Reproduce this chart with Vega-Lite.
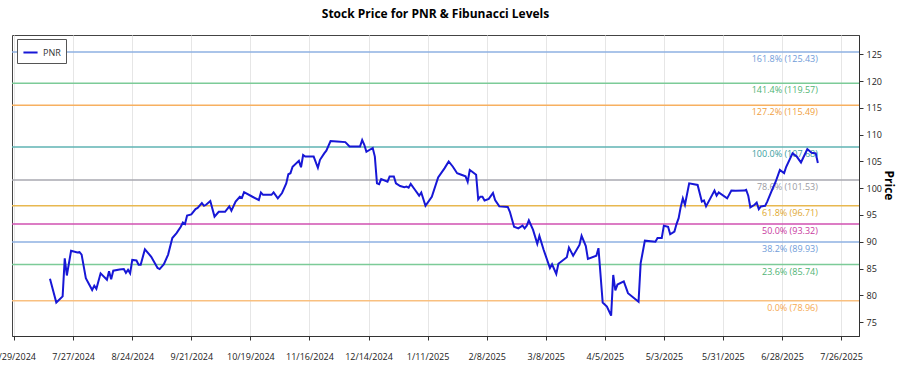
{
"$schema": "https://vega.github.io/schema/vega-lite/v6.json",
"width": 847, "height": 301,
"autosize": {"type": "none"},
"padding": {"left": 12, "top": 35, "right": 41, "bottom": 39},
"background": "white",
"config": {"font": "Open Sans", "view": {"stroke": "#444", "strokeWidth": 1}, "axis": {"labelOverlap": false}, "axisY": {"labelOverlap": false}, "axisRight": {"labelOverlap": false}, "axisQuantitative": {"labelOverlap": false}},
"title": {"text": "Stock Price for PNR & Fibunacci Levels", "fontSize": 12, "fontWeight": "bold", "color": "#000", "anchor": "middle", "offset": 14},
"datasets": {
"fib": [
{"level": "161.8%", "value": 125.43, "label": "161.8% (125.43)"},
{"level": "141.4%", "value": 119.57, "label": "141.4% (119.57)"},
{"level": "127.2%", "value": 115.49, "label": "127.2% (115.49)"},
{"level": "100.0%", "value": 107.68, "label": "100.0% (107.68)"},
{"level": "78.6%", "value": 101.53, "label": "78.6% (101.53)"},
{"level": "61.8%", "value": 96.71, "label": "61.8% (96.71)"},
{"level": "50.0%", "value": 93.32, "label": "50.0% (93.32)"},
{"level": "38.2%", "value": 89.93, "label": "38.2% (89.93)"},
{"level": "23.6%", "value": 85.74, "label": "23.6% (85.74)"},
{"level": "0.0%", "value": 78.96, "label": "0.0% (78.96)"}
],
"prices": [
{"date":"2024-07-16T00:00","price":83.1},{"date":"2024-07-19T00:00","price":78.65},{"date":"2024-07-22T00:00","price":79.8},{"date":"2024-07-23T00:00","price":86.9},{"date":"2024-07-24T00:00","price":83.7},{"date":"2024-07-26T00:00","price":88.3},{"date":"2024-07-29T00:00","price":88.0},{"date":"2024-07-30T00:00","price":88.05},{"date":"2024-07-31T00:00","price":87.6},{"date":"2024-08-02T00:00","price":83.2},{"date":"2024-08-05T00:00","price":81.0},{"date":"2024-08-06T00:00","price":81.8},{"date":"2024-08-07T00:00","price":81.2},{"date":"2024-08-09T00:00","price":84.1},{"date":"2024-08-12T00:00","price":82.9},{"date":"2024-08-13T00:00","price":84.5},{"date":"2024-08-14T00:00","price":83.0},{"date":"2024-08-15T00:00","price":84.6},{"date":"2024-08-18T00:00","price":84.8},{"date":"2024-08-20T00:00","price":84.9},{"date":"2024-08-21T00:00","price":84.2},{"date":"2024-08-22T00:00","price":84.75},{"date":"2024-08-23T00:00","price":84.1},{"date":"2024-08-24T00:00","price":86.6},{"date":"2024-08-26T00:00","price":86.5},{"date":"2024-08-27T00:00","price":85.7},{"date":"2024-08-28T00:00","price":85.7},{"date":"2024-08-30T00:00","price":88.6},{"date":"2024-09-02T00:00","price":87.2},{"date":"2024-09-05T00:00","price":85.1},{"date":"2024-09-06T00:00","price":84.9},{"date":"2024-09-08T00:00","price":85.8},{"date":"2024-09-10T00:00","price":87.6},{"date":"2024-09-12T00:00","price":90.7},{"date":"2024-09-14T00:00","price":91.6},{"date":"2024-09-16T00:00","price":92.8},{"date":"2024-09-17T00:00","price":93.6},{"date":"2024-09-18T00:00","price":93.3},{"date":"2024-09-19T00:00","price":94.9},{"date":"2024-09-21T00:00","price":95.1},{"date":"2024-09-23T00:00","price":96.1},{"date":"2024-09-24T00:00","price":96.3},{"date":"2024-09-26T00:00","price":97.2},{"date":"2024-09-27T00:00","price":96.7},{"date":"2024-09-28T00:00","price":96.9},{"date":"2024-09-30T00:00","price":97.6},{"date":"2024-10-02T00:00","price":94.7},{"date":"2024-10-04T00:00","price":95.6},{"date":"2024-10-07T00:00","price":95.6},{"date":"2024-10-09T00:00","price":96.6},{"date":"2024-10-10T00:00","price":95.8},{"date":"2024-10-12T00:00","price":97.5},{"date":"2024-10-14T00:00","price":98.4},{"date":"2024-10-15T00:00","price":98.2},{"date":"2024-10-16T00:00","price":99.25},{"date":"2024-10-20T00:00","price":98.4},{"date":"2024-10-23T00:00","price":97.8},{"date":"2024-10-24T00:00","price":99.2},{"date":"2024-10-25T00:00","price":98.75},{"date":"2024-10-29T00:00","price":98.75},{"date":"2024-10-30T00:00","price":99.2},{"date":"2024-11-01T00:00","price":98.1},{"date":"2024-11-03T00:00","price":99.1},{"date":"2024-11-05T00:00","price":100.9},{"date":"2024-11-06T00:00","price":102.6},{"date":"2024-11-07T00:00","price":102.8},{"date":"2024-11-08T00:00","price":104.0},{"date":"2024-11-11T00:00","price":105.1},{"date":"2024-11-12T00:00","price":103.9},{"date":"2024-11-13T00:00","price":106.2},{"date":"2024-11-14T00:00","price":105.9},{"date":"2024-11-18T00:00","price":105.9},{"date":"2024-11-20T00:00","price":103.8},{"date":"2024-11-21T00:00","price":105.3},{"date":"2024-11-23T00:00","price":106.5},{"date":"2024-11-24T00:00","price":107.0},{"date":"2024-11-26T00:00","price":108.8},{"date":"2024-11-29T00:00","price":108.7},{"date":"2024-12-03T00:00","price":108.6},{"date":"2024-12-05T00:00","price":107.8},{"date":"2024-12-10T00:00","price":107.8},{"date":"2024-12-11T00:00","price":109.0},{"date":"2024-12-12T00:00","price":108.1},{"date":"2024-12-13T00:00","price":106.8},{"date":"2024-12-16T00:00","price":107.5},{"date":"2024-12-17T00:00","price":105.9},{"date":"2024-12-18T00:00","price":100.9},{"date":"2024-12-19T00:00","price":100.75},{"date":"2024-12-20T00:00","price":101.7},{"date":"2024-12-23T00:00","price":101.2},{"date":"2024-12-24T00:00","price":102.2},{"date":"2024-12-26T00:00","price":102.2},{"date":"2024-12-27T00:00","price":100.9},{"date":"2024-12-29T00:00","price":100.4},{"date":"2024-12-31T00:00","price":100.2},{"date":"2025-01-01T00:00","price":100.3},{"date":"2025-01-02T00:00","price":100.1},{"date":"2025-01-03T00:00","price":100.8},{"date":"2025-01-05T00:00","price":99.7},{"date":"2025-01-07T00:00","price":98.6},{"date":"2025-01-08T00:00","price":99.2},{"date":"2025-01-10T00:00","price":96.7},{"date":"2025-01-13T00:00","price":98.4},{"date":"2025-01-16T00:00","price":102.0},{"date":"2025-01-19T00:00","price":103.7},{"date":"2025-01-21T00:00","price":105.0},{"date":"2025-01-23T00:00","price":104.0},{"date":"2025-01-25T00:00","price":102.8},{"date":"2025-01-27T00:00","price":102.5},{"date":"2025-01-29T00:00","price":102.2},{"date":"2025-01-30T00:00","price":101.2},{"date":"2025-01-31T00:00","price":103.4},{"date":"2025-02-01T00:00","price":103.1},{"date":"2025-02-03T00:00","price":102.5},{"date":"2025-02-04T00:00","price":97.9},{"date":"2025-02-05T00:00","price":98.4},{"date":"2025-02-06T00:00","price":98.4},{"date":"2025-02-07T00:00","price":97.7},{"date":"2025-02-09T00:00","price":98.0},{"date":"2025-02-11T00:00","price":99.1},{"date":"2025-02-12T00:00","price":97.8},{"date":"2025-02-14T00:00","price":96.6},{"date":"2025-02-18T00:00","price":96.5},{"date":"2025-02-19T00:00","price":95.6},{"date":"2025-02-21T00:00","price":92.8},{"date":"2025-02-23T00:00","price":92.5},{"date":"2025-02-25T00:00","price":93.0},{"date":"2025-02-26T00:00","price":92.5},{"date":"2025-02-27T00:00","price":93.0},{"date":"2025-02-28T00:00","price":94.0},{"date":"2025-03-02T00:00","price":92.2},{"date":"2025-03-04T00:00","price":89.6},{"date":"2025-03-05T00:00","price":91.1},{"date":"2025-03-07T00:00","price":88.5},{"date":"2025-03-10T00:00","price":85.1},{"date":"2025-03-11T00:00","price":85.8},{"date":"2025-03-13T00:00","price":84.0},{"date":"2025-03-14T00:00","price":85.9},{"date":"2025-03-18T00:00","price":87.1},{"date":"2025-03-19T00:00","price":88.9},{"date":"2025-03-21T00:00","price":87.4},{"date":"2025-03-24T00:00","price":89.4},{"date":"2025-03-25T00:00","price":91.1},{"date":"2025-03-27T00:00","price":89.2},{"date":"2025-03-28T00:00","price":86.8},{"date":"2025-04-01T00:00","price":87.4},{"date":"2025-04-02T00:00","price":88.8},{"date":"2025-04-04T00:00","price":78.65},{"date":"2025-04-06T00:00","price":77.9},{"date":"2025-04-08T00:00","price":76.2},{"date":"2025-04-09T00:00","price":83.8},{"date":"2025-04-10T00:00","price":80.9},{"date":"2025-04-11T00:00","price":82.0},{"date":"2025-04-14T00:00","price":82.6},{"date":"2025-04-16T00:00","price":80.4},{"date":"2025-04-21T00:00","price":78.8},{"date":"2025-04-22T00:00","price":86.0},{"date":"2025-04-24T00:00","price":90.2},{"date":"2025-04-29T00:00","price":90.0},{"date":"2025-04-30T00:00","price":90.7},{"date":"2025-05-02T00:00","price":90.7},{"date":"2025-05-03T00:00","price":93.0},{"date":"2025-05-05T00:00","price":92.8},{"date":"2025-05-06T00:00","price":91.4},{"date":"2025-05-08T00:00","price":91.9},{"date":"2025-05-09T00:00","price":93.3},{"date":"2025-05-10T00:00","price":94.4},{"date":"2025-05-11T00:00","price":96.5},{"date":"2025-05-12T00:00","price":98.1},{"date":"2025-05-13T00:00","price":96.9},{"date":"2025-05-15T00:00","price":100.9},{"date":"2025-05-19T00:00","price":100.6},{"date":"2025-05-21T00:00","price":97.5},{"date":"2025-05-22T00:00","price":97.7},{"date":"2025-05-23T00:00","price":96.6},{"date":"2025-05-27T00:00","price":99.55},{"date":"2025-05-28T00:00","price":98.6},{"date":"2025-05-29T00:00","price":99.2},{"date":"2025-06-02T00:00","price":98.1},{"date":"2025-06-04T00:00","price":99.55},{"date":"2025-06-06T00:00","price":99.5},{"date":"2025-06-10T00:00","price":99.55},{"date":"2025-06-11T00:00","price":99.7},{"date":"2025-06-12T00:00","price":98.6},{"date":"2025-06-13T00:00","price":96.4},{"date":"2025-06-15T00:00","price":96.9},{"date":"2025-06-16T00:00","price":97.3},{"date":"2025-06-17T00:00","price":96.1},{"date":"2025-06-18T00:00","price":96.6},{"date":"2025-06-20T00:00","price":96.7},{"date":"2025-06-21T00:00","price":97.5},{"date":"2025-06-23T00:00","price":99.4},{"date":"2025-06-25T00:00","price":101.2},{"date":"2025-06-27T00:00","price":103.4},{"date":"2025-06-29T00:00","price":102.8},{"date":"2025-06-30T00:00","price":104.0},{"date":"2025-07-03T00:00","price":106.5},{"date":"2025-07-05T00:00","price":105.9},{"date":"2025-07-07T00:00","price":104.8},{"date":"2025-07-10T00:00","price":107.3},{"date":"2025-07-12T00:00","price":106.6},{"date":"2025-07-14T00:00","price":106.5},{"date":"2025-07-15T00:00","price":104.7}
]
},
"layer": [
{
"data": {"name": "fib"},
"mark": {"type": "rule", "strokeWidth": 1.5},
"encoding": {
"y": {"field": "value", "type": "quantitative", "scale": {"domain": [72.4, 128.6], "nice": false, "zero": false},
 "axis": {"orient": "right", "title": "Price", "titleFontSize": 12, "titleFontWeight": "bold", "titleColor": "#000", "titleAngle": 90, "titleX": 29, "titleY": 150, "titleAlign": "center", "titleBaseline": "middle", "values": [75,80,85,90,95,100,105,110,115,120,125], "labelOverlap": false, "labelFontSize": 9, "labelColor": "#222", "tickSize": 4, "tickColor": "#333", "domainColor": "#333", "grid": false, "labelPadding": 3}},
"color": {"field": "level", "type": "nominal", "legend": null, "scale": {"domain": ["161.8%","141.4%","127.2%","100.0%","78.6%","61.8%","50.0%","38.2%","23.6%","0.0%"], "range": ["#8eb0e2","#7ccb98","#f7b060","#5fb3b3","#a8a8b0","#e8b850","#d050b0","#8eb0e2","#7ccb98","#f9c080"]}}
}
},
{
"data": {"name": "fib"},
"mark": {"type": "text", "align": "right", "baseline": "top", "dy": 3, "fontSize": 9},
"encoding": {
"x": {"datum": {"year": 2025, "month": 7, "date": 15}, "type": "temporal"},
"y": {"field": "value", "type": "quantitative",
 "axis": {"orient": "right", "title": "Price", "titleFontSize": 12, "titleFontWeight": "bold", "titleColor": "#000", "titleAngle": 90, "titleX": 29, "titleY": 150, "titleAlign": "center", "titleBaseline": "middle", "values": [75,80,85,90,95,100,105,110,115,120,125], "labelOverlap": false, "labelFontSize": 9, "labelColor": "#222", "tickSize": 4, "tickColor": "#333", "domainColor": "#333", "grid": false, "labelPadding": 3}},
"text": {"field": "label"},
"color": {"field": "level", "type": "nominal", "legend": null, "scale": {"domain": ["161.8%","141.4%","127.2%","100.0%","78.6%","61.8%","50.0%","38.2%","23.6%","0.0%"], "range": ["#6f9cd8","#4fb474","#f0a040","#3a9e9e","#9a9aa2","#e0a830","#c83aa0","#6f9cd8","#4fb474","#f5a850"]}}
}
},
{
"data": {"name": "prices"},
"mark": {"type": "line", "strokeWidth": 2},
"encoding": {
"x": {"field": "date", "type": "temporal",
 "scale": {"domain": [{"year": 2024, "month": 6, "date": 28}, {"year": 2025, "month": 8, "date": 3, "hours": 12}]},
 "axis": {"title": null, "format": "%-m/%-d/%Y", "labelFontSize": 9, "labelColor": "#222", "labelPadding": 12, "labelFlush": false, "labelOverlap": false, "tickSize": 4, "tickColor": "#333", "domainColor": "#333", "grid": true, "gridColor": "#e6e6e6",
  "values": [{"year":2024,"month":6,"date":29},{"year":2024,"month":7,"date":27},{"year":2024,"month":8,"date":24},{"year":2024,"month":9,"date":21},{"year":2024,"month":10,"date":19},{"year":2024,"month":11,"date":16},{"year":2024,"month":12,"date":14},{"year":2025,"month":1,"date":11},{"year":2025,"month":2,"date":8},{"year":2025,"month":3,"date":8},{"year":2025,"month":4,"date":5},{"year":2025,"month":5,"date":3},{"year":2025,"month":5,"date":31},{"year":2025,"month":6,"date":28},{"year":2025,"month":7,"date":26}]}},
"y": {"field": "price", "type": "quantitative",
 "axis": {"orient": "right", "title": "Price", "titleFontSize": 12, "titleFontWeight": "bold", "titleColor": "#000", "titleAngle": 90, "titleX": 29, "titleY": 150, "titleAlign": "center", "titleBaseline": "middle", "values": [75,80,85,90,95,100,105,110,115,120,125], "labelOverlap": false, "labelFontSize": 9, "labelColor": "#222", "tickSize": 4, "tickColor": "#333", "domainColor": "#333", "grid": false, "labelPadding": 3}},
"color": {"datum": "PNR", "type": "nominal", "scale": {"range": ["#1717d6"]},
 "legend": {"title": null, "orient": "none", "legendX": 5, "legendY": 4, "strokeColor": "#555", "fillColor": "white", "padding": 5, "symbolType": "stroke", "symbolStrokeWidth": 2, "symbolSize": 200, "labelFontSize": 9, "labelColor": "#333"}}
}
}
],
"resolve": {"scale": {"color": "independent"}}
}
